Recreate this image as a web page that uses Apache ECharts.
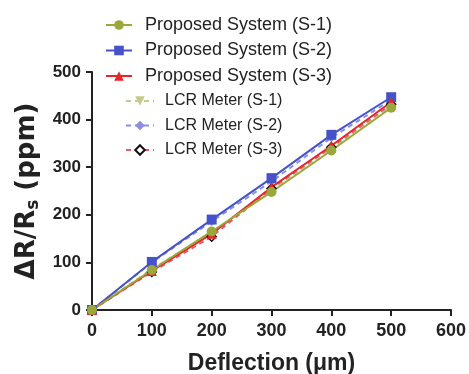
<!DOCTYPE html>
<html>
<head>
<meta charset="utf-8">
<script src="https://cdn.jsdelivr.net/npm/echarts@6/dist/echarts.min.js"></script>
<style>html,body{margin:0;padding:0;background:#fff}#c{width:469px;height:374px}</style>
</head>
<body>
<div id="c"></div>
<script>
const xValues = [0, 100, 200, 300, 400, 500];
const propS1 = [0, 84, 165, 248, 335, 425];
const propS2 = [0, 101, 190, 277, 368, 447];
const propS3 = [0, 82, 160, 258, 345, 437];
const lcrS1 = [0, 86, 163, 250, 338, 428];
const lcrS2 = [0, 100, 186, 270, 362, 441];
const lcrS3 = [0, 80, 154, 255, 342, 432];
const names = ['Proposed System (S-1)', 'Proposed System (S-2)', 'Proposed System (S-3)',
               'LCR Meter (S-1)', 'LCR Meter (S-2)', 'LCR Meter (S-3)'];

const pair = arr => xValues.map((x, i) => [x, arr[i]]);
const FONT = '"Liberation Sans", Arial, sans-serif';
const TFONT = '"DejaVu Sans", sans-serif';

function mk(name, data, color, symbol, opts) {
  return Object.assign({
    name, type: 'line', data: pair(data), symbol, symbolSize: 10,
    lineStyle: { color, width: 2 },
    itemStyle: { color },
    animation: false
  }, opts || {});
}

const chart = echarts.init(document.getElementById('c'));
chart.setOption({
  backgroundColor: '#fff',
  textStyle: { fontFamily: FONT },
  grid: { left: 92, right: 18, top: 72, bottom: 64, outerBoundsMode: 'none', containLabel: false },
  legend: [
    {
      data: names.slice(0, 3), orient: 'vertical', left: 100, top: 11,
      itemWidth: 26, itemHeight: 12, itemGap: 7.5,
      textStyle: { fontSize: 18, color: '#222', fontFamily: FONT, padding: [0, 0, 0, 8] }
    },
    {
      data: names.slice(3), orient: 'vertical', left: 120, top: 88,
      itemWidth: 28, itemHeight: 12, itemGap: 8.5,
      textStyle: { fontSize: 16, color: '#222', fontFamily: FONT, padding: [0, 0, 0, 6] }
    }
  ],
  xAxis: {
    type: 'value', min: 0, max: 600, interval: 100,
    name: 'Deflection (\u03bcm)', nameLocation: 'middle', nameGap: 42,
    nameTextStyle: { fontSize: 23, fontWeight: 'bold', color: '#222', fontFamily: FONT },
    axisLine: { show: true, lineStyle: { color: '#222', width: 2 } },
    axisTick: { show: true, length: 6, lineStyle: { color: '#222', width: 2 } },
    axisLabel: { fontSize: 18, fontWeight: 'bold', color: '#222', margin: 12 },
    splitLine: { show: false }
  },
  yAxis: {
    type: 'value', min: 0, max: 500, interval: 100,
    name: '{a|\u0394R/R}{s|s}{a| (ppm)}', nameLocation: 'middle', nameGap: 50, nameRotate: 90,
    nameTextStyle: {
      rich: {
        a: { fontSize: 26, fontWeight: 'bold', color: '#222', fontFamily: TFONT },
        s: { fontSize: 17, fontWeight: 'bold', color: '#222', fontFamily: TFONT, padding: [12, 0, 0, 0] }
      }
    },
    axisLine: { show: true, lineStyle: { color: '#222', width: 2 } },
    axisTick: { show: true, length: 6, lineStyle: { color: '#222', width: 2 } },
    axisLabel: { fontSize: 17, fontWeight: 'bold', color: '#222', margin: 11 },
    splitLine: { show: false }
  },
  series: [
    mk(names[3], lcrS1, '#c9c98f', 'triangle', { symbolRotate: 180, symbolSize: 8, lineStyle: { color: '#c9c98f', width: 2, type: [5, 4] } }),
    mk(names[4], lcrS2, '#8a8fe6', 'diamond', { symbolSize: 9, lineStyle: { color: '#8a8fe6', width: 2, type: [5, 4] } }),
    mk(names[5], lcrS3, '#e06070', 'diamond', { symbolSize: 9, itemStyle: { color: '#fff', borderColor: '#111', borderWidth: 1.5 }, lineStyle: { color: '#e06070', width: 2, type: [5, 4] } }),
    mk(names[1], propS2, '#4552c8', 'rect'),
    mk(names[2], propS3, '#e8262a', 'triangle'),
    mk(names[0], propS1, '#9aa83a', 'circle')
  ]
});
</script>
</body>
</html>
